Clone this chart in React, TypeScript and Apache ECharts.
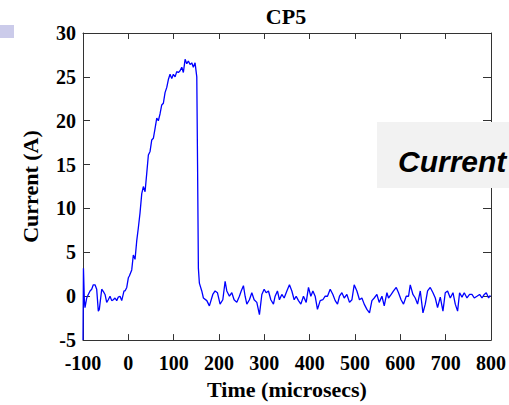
import React, { useEffect, useRef } from "react";
import * as echarts from "echarts";

const xTicks = [-100, 0, 100, 200, 300, 400, 500, 600, 700, 800];
const yTicks = [-5, 0, 5, 10, 15, 20, 25, 30];

const times = [
  -100, -99, -97, -95.6, -91.8, -88.3, -84.5, -80.8, -77.3, -73.5, -69.8, -66.2, -64, -58.7, -53.6, -51.4,
  -47.7, -44.2, -40.4, -36.6, -33.1, -29.4, -25.6, -22.1, -18.3, -14.6, -9.5, -7.3, -3.5, 0, 2.2, 7.5,
  11, 14.8, 18.5, 22.1, 25.8, 29.6, 33.1, 36.9, 40.6, 44.2, 47.9, 51.6, 55.2, 58.9, 62.7, 66.2,
  70, 73.7, 77.3, 81, 84.8, 88.3, 92, 95.8, 99.3, 103.1, 106.8, 110.4, 114.1, 117.9, 121.4, 125.2,
  128.9, 132.4, 136.2, 139.9, 143.4, 147.2, 151, 152.7, 154.5, 156.7, 162, 165.6, 173.1, 178.8, 186.3, 191.4,
  196.5, 202.4, 208.4, 213.5, 217.2, 223, 228.3, 233.3, 239.3, 245, 249, 253.9, 257.6, 261.4, 267.1, 272.4,
  277.5, 283.4, 289.2, 294.5, 299.6, 304, 309.1, 314.3, 320.1, 323.8, 328.9, 333.3, 338.6, 343.7, 349.7, 355.4,
  360.7, 365.8, 370.2, 375.3, 380.6, 386.3, 392.3, 397.4, 402.6, 407.1, 412.1, 417.2, 423.2, 429.1, 434.2, 439.3,
  445.3, 451.2, 456.3, 461.4, 465.8, 471.1, 476.2, 482.1, 487.9, 493.2, 498.2, 504.2, 509.9, 515.2, 520.3, 526.3,
  532, 537.3, 542.4, 548.3, 553.4, 559.4, 564.5, 570.4, 573.9, 579.9, 585, 591, 596, 601.6, 607, 613,
  618.1, 621.9, 627.8, 632.9, 638, 644, 649.9, 655, 660.1, 666, 672, 677.1, 682.1, 688.1, 694, 699.1,
  704.2, 710.2, 716.1, 721.2, 726.3, 730.7, 736, 741, 747, 752.7, 758, 763.1, 769, 774.8, 780.1, 785.2,
  789.6, 794.7, 798.5
];

const current = [
  -5, 3.2, -0.5, -1.3, -0.2, 0.2, 0.6, 0.8, 1.3, 1.3, 0.8, -1.7, -1.5, 0.8, 0.4, 0.2,
  -0.7, -0.4, 0, -0.5, -0.4, -0.2, -0.5, -0.1, 0, -0.5, 0.6, 0.6, 1.0, 2.1, 2.3, 3.0,
  4.7, 4.2, 6.3, 7.8, 9.5, 11.7, 12.5, 11.9, 14, 16.1, 16.5, 17.8, 18.0, 19.1, 20.3, 20.0,
  20.8, 21.8, 22.0, 23.2, 23.8, 24.7, 25.3, 24.8, 25.3, 25.0, 25.6, 25.5, 25.7, 26.1, 25.5, 27.0,
  26.5, 26.8, 26.4, 26.6, 26.1, 26.6, 25.0, 15, 3.2, 1.5, 0.6, -0.2, -0.5, -1.1, 0.2, 0.6,
  0.4, -0.9, -0.4, 1.7, 0.6, 0, 0.4, -0.4, -0.7, 0, 0.6, 1.2, 0, -0.9, -0.4, 0.4,
  -0.4, -0.7, -2.1, 0.2, 0.8, 0.4, 0.6, -0.4, -0.9, 0, 0.6, -0.4, 0.2, -0.2, 0.6, 1.3,
  0.6, -0.4, 0, -0.5, -0.9, 0, -0.7, 1.0, 0, 0.6, 0, -1.5, -0.5, -0.4, 0, 0,
  0.8, 0.2, -0.5, -0.9, 0, 0.4, -0.2, 0.2, -0.7, -0.4, 1.3, 0.6, -0.4, -0.2, -0.9, -1.5,
  -1.9, -0.5, -0.2, 0.2, -0.7, 0, -1.1, 0.4, -0.2, 0.2, 0.6, 1.0, 0.4, -0.4, -0.9, 0,
  0, 1.3, 0.2, -0.2, -0.9, 0.6, -1.9, -0.9, 0.6, 1.0, 0.4, -0.2, -1.3, -0.1, -1.7, 0.4,
  0.6, -0.2, 0.4, -0.9, -1.7, 0.4, -0.1, 0.4, -0.2, 0.2, 0.2, -0.2, 0, 0.2, -0.2, 0.2,
  0.4, -0.2, 0.1
];

const SERIF = '"Liberation Serif", "Times New Roman", serif';
const SANS = '"Liberation Sans", Arial, sans-serif';

export default function App() {
  const ref = useRef<HTMLDivElement>(null);

  useEffect(() => {
    if (!ref.current) return;
    const chart = echarts.init(ref.current, null, { renderer: "svg" });
    const axisColor = "#333333";
    const labelStyle = {
      fontFamily: SERIF,
      fontWeight: "bold" as const,
      fontSize: 20,
      color: "#000000",
    };
    const xMin = xTicks[0];
    const xMax = xTicks[xTicks.length - 1];
    const yMin = yTicks[0];
    const yMax = yTicks[yTicks.length - 1];
    chart.setOption({
      animation: false,
      backgroundColor: "#ffffff",
      grid: { left: 83, right: 18, top: 33, bottom: 62, containLabel: false },
      xAxis: [
        {
          type: "value",
          min: xMin,
          max: xMax,
          interval: 100,
          position: "bottom",
          axisLine: { show: true, onZero: false, lineStyle: { color: axisColor, width: 1 } },
          axisTick: { show: true, inside: true, length: 6, lineStyle: { color: axisColor } },
          axisLabel: { ...labelStyle, margin: 13 },
          splitLine: { show: false },
          name: "Time (microsecs)",
          nameLocation: "middle",
          nameGap: 37,
          nameTextStyle: { fontFamily: SERIF, fontWeight: "bold", fontSize: 22, color: "#000000" },
        },
        {
          type: "value",
          min: xMin,
          max: xMax,
          interval: 100,
          position: "top",
          axisLine: { show: true, onZero: false, lineStyle: { color: axisColor, width: 1 } },
          axisTick: { show: true, inside: true, length: 6, lineStyle: { color: axisColor } },
          axisLabel: { show: false },
          splitLine: { show: false },
        },
      ],
      yAxis: [
        {
          type: "value",
          min: yMin,
          max: yMax,
          interval: 5,
          position: "left",
          axisLine: { show: true, onZero: false, lineStyle: { color: axisColor, width: 1 } },
          axisTick: { show: true, inside: true, length: 7, lineStyle: { color: axisColor } },
          axisLabel: { ...labelStyle, margin: 7 },
          splitLine: { show: false },
          name: "Current (A)",
          nameLocation: "middle",
          nameGap: 42,
          nameRotate: 90,
          nameTextStyle: { fontFamily: SERIF, fontWeight: "bold", fontSize: 22, color: "#000000" },
        },
        {
          type: "value",
          min: yMin,
          max: yMax,
          interval: 5,
          position: "right",
          axisLine: { show: true, onZero: false, lineStyle: { color: axisColor, width: 1 } },
          axisTick: { show: true, inside: true, length: 8, lineStyle: { color: axisColor } },
          axisLabel: { show: false },
          splitLine: { show: false },
        },
      ],
      series: [
        {
          type: "line",
          xAxisIndex: 0,
          yAxisIndex: 0,
          data: times.map((t, i) => [t, current[i]]),
          showSymbol: false,
          symbol: "none",
          lineStyle: { color: "#0000ff", width: 1.3 },
          clip: true,
        },
      ],
      graphic: [
        {
          type: "text",
          x: 286,
          y: 16,
          style: {
            text: "CP5",
            textAlign: "center",
            textVerticalAlign: "middle",
            font: `bold 22px ${SERIF}`,
            fill: "#000000",
          },
        },
        {
          type: "rect",
          shape: { x: 0, y: 25, width: 14, height: 13 },
          style: { fill: "#cbcbea" },
        },
        {
          type: "rect",
          z: 100,
          shape: { x: 377, y: 122, width: 140, height: 66 },
          style: { fill: "#f2f2f2" },
        },
        {
          type: "text",
          z: 101,
          x: 398,
          y: 161,
          style: {
            text: "Current",
            textVerticalAlign: "middle",
            font: `italic bold 30px ${SANS}`,
            fill: "#000000",
          },
        },
      ],
    });
    return () => chart.dispose();
  }, []);

  return (
    <div
      ref={ref}
      style={{ position: "fixed", left: 0, top: 0, width: 509, height: 405 }}
    />
  );
}
